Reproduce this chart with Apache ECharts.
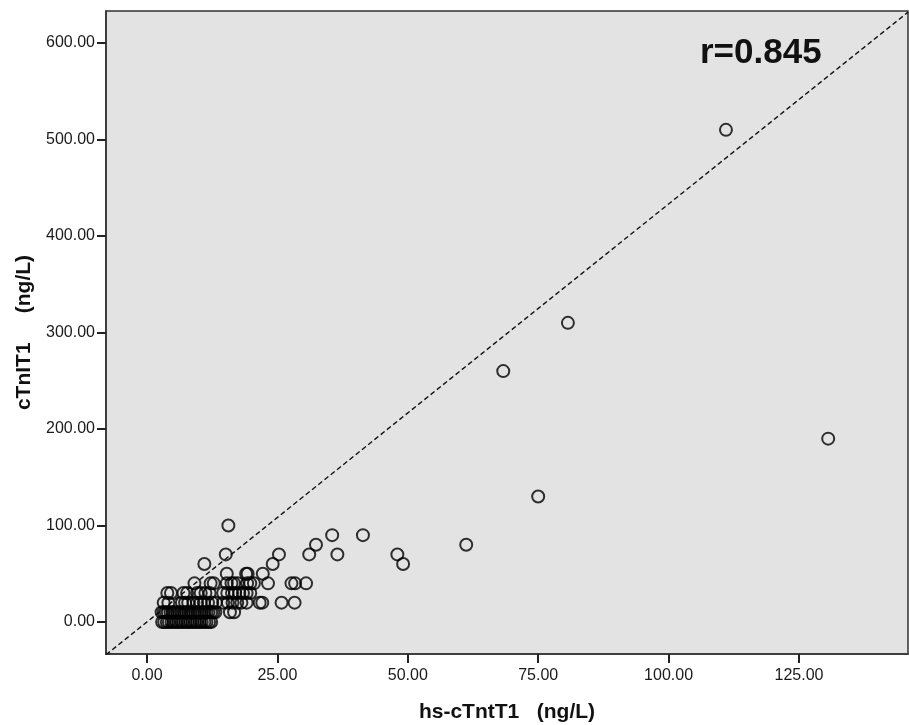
<!DOCTYPE html>
<html lang="en">

<head>
    <meta charset="UTF-8" />
    <title>cTnIT1 vs hs-cTntT1</title>
    <script src="https://cdn.jsdelivr.net/npm/echarts@6.0.0/dist/echarts.min.js"></script>
    <style>
        html, body { margin: 0; padding: 0; background: #fff; }
    </style>
</head>

<body>
    <div id="main" style="width: 909px; height: 725px"></div>
    <script type="text/javascript">
        // tick values
        const xTicks = [0, 25, 50, 75, 100, 125];
        const yTicks = [0, 100, 200, 300, 400, 500, 600];

        // points above the dense rows (hs-cTntT1, cTnIT1)
        const upperX = [111.0, 80.7, 68.3, 130.6, 75.0, 61.2, 48.0, 49.1, 41.4, 35.5, 32.4, 31.1, 36.5, 25.3, 24.1, 15.6, 15.1, 11.0, 22.2, 19.0, 19.3, 15.3];
        const upperY = [510, 310, 260, 190, 130, 80, 70, 60, 90, 90, 80, 70, 70, 70, 60, 100, 70, 60, 50, 50, 50, 50];

        // low rows: cTnIT1 level and the hs-cTntT1 values on that level
        const rowLevels = [0, 10, 20, 30, 40];
        const hsAt0 = [2.9, 3.3, 3.8, 4.2, 4.7, 5.1, 5.6, 6.0, 6.5, 6.9, 7.4, 7.8, 8.3, 8.7, 9.2, 9.6, 10.1, 10.5, 11.0, 11.4, 11.9, 12.3];
        const hsAt10 = [2.8, 3.2, 3.6, 4.0, 4.5, 4.9, 5.3, 5.8, 6.2, 6.6, 7.1, 7.5, 7.9, 8.4, 8.8, 9.2, 9.7, 10.1, 10.5, 11.0, 11.4, 11.8, 12.3, 12.7, 13.1, 15.9, 16.7];
        const hsAt20 = [3.2, 4.1, 6.7, 7.3, 7.9, 8.9, 9.6, 10.3, 10.9, 11.7, 12.5, 13.2, 14.6, 15.5, 16.4, 17.3, 18.1, 19.1, 21.6, 22.1, 25.8, 28.3];
        const hsAt30 = [3.9, 4.6, 7.0, 7.7, 9.6, 10.3, 11.2, 12.0, 14.6, 15.4, 16.3, 16.9, 17.7, 18.4, 19.1, 19.8];
        const hsAt40 = [9.1, 12.2, 12.8, 15.3, 16.2, 16.7, 17.4, 19.2, 19.8, 20.5, 23.2, 27.7, 28.4, 30.5];

        // dashed reference line end points
        const refX = [-7.86, 145.9];
        const refY = [-34.0, 632.0];

        let points = upperX.map((x, i) => [x, upperY[i]]);
        [hsAt0, hsAt10, hsAt20, hsAt30, hsAt40].forEach((row, r) => {
            for (let x of row) points.push([x, rowLevels[r]]);
        });

        const fontFam = "Arial, 'Liberation Sans', sans-serif";

        let options = {
            animation: false,
            backgroundColor: "#fff",
            grid: {
                left: 106, top: 11, right: 1, bottom: 71,
                outerBoundsMode: "none",
                show: true,
                backgroundColor: "#e3e3e3",
                borderColor: "#333",
                borderWidth: 1.5,
            },
            xAxis: {
                type: "value",
                min: -7.86,
                max: 145.9,
                name: "hs-cTntT1   (ng/L)",
                nameLocation: "middle",
                nameGap: 48,
                nameTextStyle: { fontFamily: fontFam, fontSize: 21, fontWeight: "bold", color: "#111" },
                axisLine: { onZero: false, lineStyle: { color: "#333", width: 1.5 } },
                axisTick: { show: true, length: 9, customValues: xTicks, lineStyle: { color: "#222", width: 2 } },
                axisLabel: {
                    customValues: xTicks,
                    margin: 14,
                    fontFamily: fontFam, fontSize: 16, color: "#1a1a1a",
                    formatter: (v) => v.toFixed(2),
                },
                splitLine: { show: false },
            },
            yAxis: {
                type: "value",
                min: -33.2,
                max: 633.2,
                name: "cTnIT1     (ng/L)",
                nameLocation: "middle",
                nameRotate: 90,
                nameGap: 68,
                nameTextStyle: { fontFamily: fontFam, fontSize: 21, fontWeight: "bold", color: "#111" },
                axisLine: { onZero: false, lineStyle: { color: "#333", width: 1.5 } },
                axisTick: { show: true, length: 9, customValues: yTicks, lineStyle: { color: "#222", width: 2 } },
                axisLabel: {
                    customValues: yTicks,
                    margin: 11,
                    fontFamily: fontFam, fontSize: 16, color: "#1a1a1a",
                    formatter: (v) => v.toFixed(2),
                },
                splitLine: { show: false },
            },
            graphic: [{
                type: "text",
                left: 700,
                top: 36,
                style: { text: "r=0.845", font: "bold 35px " + fontFam, fill: "#111" },
            }],
            series: [
                {
                    type: "line",
                    data: refX.map((x, i) => [x, refY[i]]),
                    symbol: "none",
                    clip: true,
                    lineStyle: { color: "#111", width: 1.4, type: [5, 3] },
                    z: 1,
                },
                {
                    type: "scatter",
                    data: points,
                    symbol: "circle",
                    symbolSize: 12,
                    itemStyle: { color: "rgba(0,0,0,0)", borderColor: "#000", borderWidth: 2 },
                    z: 2,
                },
            ],
        };

        let myChart = echarts.init(document.getElementById("main"));
        myChart.setOption(options);
    </script>
</body>

</html>
